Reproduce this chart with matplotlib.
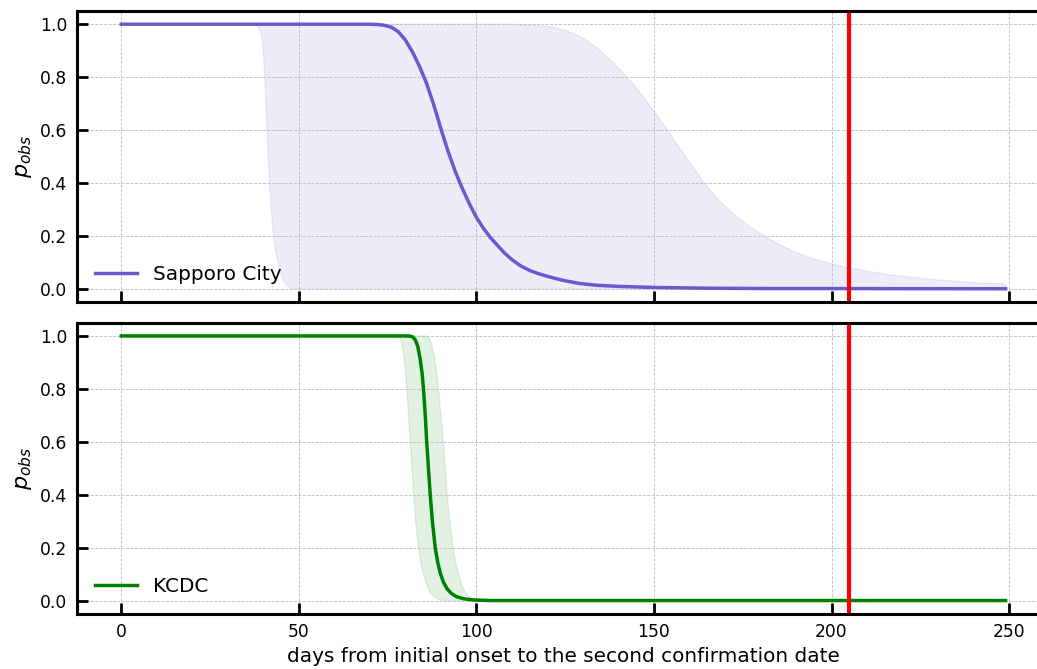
import numpy as np
import matplotlib
matplotlib.use("Agg")
import matplotlib.pyplot as plt

# Sapporo City: median curve and band bounds
sap_x = [0, 70, 72, 74, 76, 78, 80, 82, 84, 86, 88, 90, 92, 94, 96, 98, 100, 102, 104, 106,
         108, 110, 112.3, 115, 117.5, 120, 122.5, 125, 129, 134, 140, 150, 165, 180, 249]
sap_y = [1.0, 1.0, 0.999, 0.996, 0.989, 0.972, 0.94, 0.895, 0.84, 0.775, 0.695, 0.605, 0.52,
         0.445, 0.38, 0.322, 0.27, 0.228, 0.193, 0.163, 0.134, 0.11, 0.088, 0.069, 0.057, 0.047,
         0.038, 0.03, 0.02, 0.013, 0.009, 0.005, 0.002, 0.001, 0.0]

sap_lo_x = [0, 37, 38, 38.8, 39.4, 39.9, 40.3, 40.7, 41.0, 41.4, 41.8, 42.3, 42.9, 43.5, 44.3,
            45, 45.7, 46.5, 47.3, 48.2, 249]
sap_lo_y = [1.0, 1.0, 0.997, 0.985, 0.96, 0.91, 0.83, 0.72, 0.62, 0.5, 0.39, 0.29, 0.2, 0.14,
            0.09, 0.055, 0.03, 0.013, 0.004, 0.0, 0.0]

sap_hi_x = [0, 110, 115, 118, 121, 124.6, 127, 129.3, 131.5, 134, 136.5, 138.7, 141, 143.4,
            145.3, 147.1, 150.2, 153.7, 157.5, 160, 162.2, 165, 168, 171.6, 174, 176.3, 178,
            180, 182, 184.7, 187, 189.4, 192, 194.1, 197, 200.1, 204, 208.1, 212, 217.5, 222,
            226.9, 231, 236.2, 242, 249]
sap_hi_y = [1.0, 1.0, 0.997, 0.994, 0.99, 0.978, 0.967, 0.953, 0.935, 0.909, 0.88, 0.852, 0.82,
            0.785, 0.755, 0.724, 0.668, 0.602, 0.527, 0.478, 0.436, 0.385, 0.338, 0.292, 0.265,
            0.242, 0.226, 0.208, 0.192, 0.172, 0.156, 0.141, 0.127, 0.117, 0.105, 0.094, 0.082,
            0.071, 0.062, 0.051, 0.044, 0.037, 0.032, 0.027, 0.022, 0.018]

# KCDC: median curve and band bounds
kcdc_x = [0, 81, 82, 82.8, 83.5, 84.2, 84.7, 85.1, 85.6, 86.0, 86.5, 87.0, 87.6, 88.4, 89.1,
          89.8, 90.7, 91.7, 93, 94.5, 96.3, 98.3, 101, 104, 249]
kcdc_y = [1.0, 1.0, 0.997, 0.985, 0.96, 0.91, 0.86, 0.8, 0.7, 0.6, 0.5, 0.4, 0.3, 0.2, 0.145,
          0.105, 0.07, 0.045, 0.026, 0.014, 0.007, 0.003, 0.001, 0.0, 0.0]

kcdc_lo_x = [0, 77.8, 78.6, 79.2, 79.8, 80.4, 80.9, 81.4, 81.9, 82.3, 82.9, 83.7, 84.4, 85.1,
             86, 87.0, 88.2, 89.8, 91, 249]
kcdc_lo_y = [1.0, 1.0, 0.99, 0.96, 0.9, 0.8, 0.7, 0.6, 0.5, 0.4, 0.3, 0.2, 0.14, 0.1, 0.06,
             0.03, 0.012, 0.002, 0.0, 0.0]

kcdc_hi_x = [0, 85.8, 86.8, 87.4, 87.9, 88.6, 89.3, 90, 90.7, 91.2, 91.8, 92.5, 93.4, 94.2,
             95.0, 95.8, 96.8, 98, 99.4, 101, 249]
kcdc_hi_y = [1.0, 1.0, 0.99, 0.97, 0.94, 0.88, 0.8, 0.7, 0.6, 0.5, 0.4, 0.3, 0.2, 0.14, 0.1,
             0.06, 0.033, 0.014, 0.004, 0.0, 0.0]

second_confirmation = 205

fig = plt.figure(figsize=(10.37, 6.69), dpi=100)
ax1 = fig.add_axes([0.0743, 0.5486, 0.938, 0.435])
ax2 = fig.add_axes([0.0743, 0.0826, 0.938, 0.435], sharex=ax1)

panels = [
    (ax1, sap_x, sap_y, sap_lo_x, sap_lo_y, sap_hi_x, sap_hi_y, "slateblue", "Sapporo City"),
    (ax2, kcdc_x, kcdc_y, kcdc_lo_x, kcdc_lo_y, kcdc_hi_x, kcdc_hi_y, "green", "KCDC"),
]

for ax, x, y, lx, ly, hx, hy, c, name in panels:
    # band between lower and upper curve
    poly_x = np.concatenate([lx, hx[::-1]])
    poly_y = np.concatenate([ly, hy[::-1]])
    ax.fill(poly_x, poly_y, color=c, alpha=0.11, lw=1)
    ax.plot(x, y, color=c, lw=2.5, label=name)
    ax.axvline(second_confirmation, color="red", lw=3)
    ax.set_xlim(-12.45, 261.45)
    ax.set_ylim(-0.05, 1.05)
    ax.set_ylabel("$p_{obs}$", fontsize=16)
    ax.grid(True, linestyle="--", linewidth=0.6, color="#bbbbbb")
    ax.tick_params(direction="in", length=8, width=2, labelsize=12.3, pad=7,
                   top=False, right=False)
    for s in ax.spines.values():
        s.set_linewidth(2.2)
    ax.legend(loc="lower left", frameon=False, fontsize=14.4, handlelength=2.1)

ax1.tick_params(labelbottom=False)
ax2.set_xlabel("days from initial onset to the second confirmation date", fontsize=14.4)

fig.savefig("out.png", dpi=100)
